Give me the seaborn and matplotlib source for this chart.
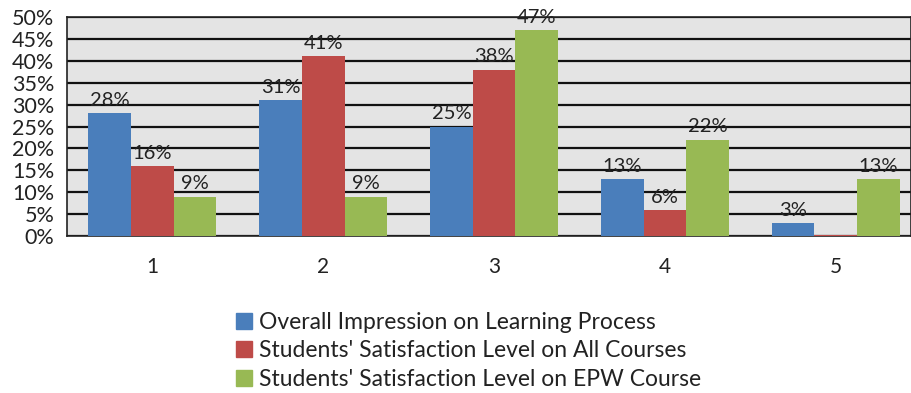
import pandas as pd
import numpy as np
import seaborn as sns
import matplotlib.pyplot as plt
from matplotlib.lines import Line2D

categories = ["1", "2", "3", "4", "5"]
series_names = [
    "Overall Impression on Learning Process",
    "Students' Satisfaction Level on All Courses",
    "Students' Satisfaction Level on EPW Course",
]
overall = [28, 31, 25, 13, 3]
all_courses = [16, 41, 38, 6, 0.3]
epw_course = [9, 9, 47, 22, 13]
colors = ["#4A7EBB", "#BE4B48", "#98B954"]

df = pd.DataFrame({
    "Category": categories * 3,
    "Series": [series_names[0]] * 5 + [series_names[1]] * 5 + [series_names[2]] * 5,
    "Value": overall + all_courses + epw_course,
})

sns.set_style("white")
plt.rcParams["font.family"] = ["Lato", "DejaVu Sans"]

fig = plt.figure(figsize=(9.11, 3.93), dpi=100)
ax = fig.add_axes([0.0735, 0.3995, 0.9265, 0.5572])
ax.set_facecolor("#E4E4E4")

sns.barplot(data=df, x="Category", y="Value", hue="Series", palette=colors, saturation=1,
            width=0.75, gap=0, linewidth=0, ax=ax, legend=False, zorder=3)

# data labels above bars (tiny red bar in group 5 has none)
for container in ax.containers:
    labels = [f"{b.get_height():.0f}%" if b.get_height() >= 1 else "" for b in container]
    ax.bar_label(container, labels=labels, padding=3, fontsize=14.5, color="#222222")

ax.set_ylim(0, 50)
ax.set_xlim(-0.5, 4.44)
ax.set_yticks(np.arange(0, 51, 5))
ax.set_yticklabels([f"{v}%" for v in range(0, 51, 5)], fontsize=15.5, color="#222222")
ax.tick_params(axis="x", labelsize=15, pad=15, length=0, labelcolor="#222222")
ax.tick_params(axis="y", pad=9, length=0)
ax.yaxis.grid(True, color="#111111", linewidth=1.6, zorder=1)
ax.set_axisbelow(True)
ax.set_xlabel("")
ax.set_ylabel("")
for side in ["top", "left", "bottom", "right"]:
    ax.spines[side].set_color("#222222")
    ax.spines[side].set_linewidth(1.2)

handles = [Line2D([0], [0], marker="s", color="none", markerfacecolor=c,
                  markeredgecolor=c, markersize=11) for c in colors]
fig.legend(handles, series_names, loc="upper left", bbox_to_anchor=(0.245, 0.236),
           frameon=False, handlelength=0.8, handletextpad=0.25,
           labelspacing=0.33, borderpad=0, prop={"size": 16.5}, labelcolor="#222222")

fig.savefig("out.png", dpi=100)
